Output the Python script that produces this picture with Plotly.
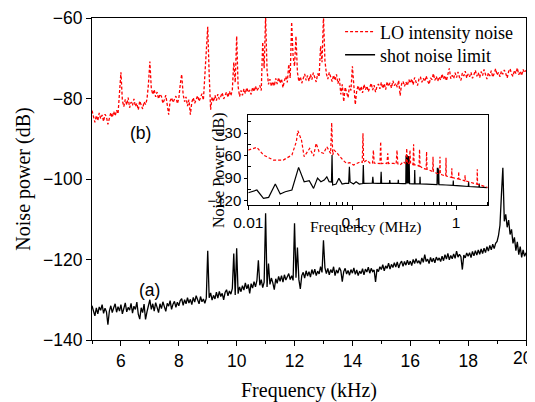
import numpy as np
import plotly.graph_objects as go

# ---------------- main chart data (frequency grid in kHz, 0.05 kHz step) ----------------
freq_khz = np.round(np.arange(5.0, 20.0001, 0.05), 2)

shot_noise_db = (
    [-131.5, -133.0, -134.0, -132.0, -133.5, -131.8, -132.6, -131.2, -133.4, -132.1, -133.0, -136.2, -132.8, -131.5, -133.2, -132.0, -131.0, -133.1, -131.7, -132.8]
    + [-131.2, -133.5, -132.0, -130.8, -133.0, -131.9, -132.6, -130.9, -133.3, -131.6, -132.4, -130.6, -133.6, -134.8, -132.0, -133.2, -131.1, -134.9, -133.0, -131.4]
    + [-130.0, -132.4, -131.0, -132.8, -130.7, -131.9, -133.2, -131.0, -132.2, -130.5, -131.8, -132.9, -130.9, -131.6, -130.2, -132.4, -131.1, -130.4, -131.9, -130.6]
    + [-131.5, -130.2, -129.7, -131.4, -130.0, -131.0, -129.5, -130.8, -129.9, -131.2, -129.4, -130.6, -129.0, -130.3, -131.0, -129.2, -130.5, -129.8, -130.9, -129.6]
    + [-117.8, -129.5, -128.3, -130.1, -128.9, -129.8, -128.1, -129.6, -127.9, -129.2, -128.4, -130.0, -128.2, -127.5, -129.0, -127.8, -128.6, -127.2, -118.5, -128.8]
    + [-117.2, -128.5, -126.8, -128.0, -126.5, -127.6, -125.8, -127.3, -126.2, -128.4, -126.0, -127.1, -125.5, -126.8, -125.2, -120.2, -126.4, -125.0, -127.0, -125.6]
    + [-108.5, -126.8, -121.0, -126.2, -124.6, -125.8, -127.5, -124.8, -125.9, -124.2, -125.4, -124.0, -125.6, -123.8, -125.1, -124.3, -123.5, -125.0, -124.0, -125.2]
    + [-111.0, -124.5, -117.0, -125.0, -127.3, -124.0, -123.2, -124.6, -122.8, -124.1, -123.0, -124.4, -122.5, -123.7, -122.4, -124.0, -122.9, -123.6, -121.8, -123.2]
    + [-115.2, -122.0, -123.5, -122.2, -123.8, -122.5, -123.3, -121.8, -124.0, -122.6, -123.4, -122.0, -122.8, -125.5, -123.0, -122.2, -123.6, -122.7, -123.9, -122.5]
    + [-123.4, -122.1, -123.7, -122.6, -124.0, -122.9, -123.5, -122.3, -123.8, -122.4, -123.1, -121.9, -123.4, -122.2, -123.0, -122.6, -125.6, -122.4, -123.0, -121.8]
    + [-122.5, -121.3, -122.8, -121.6, -122.2, -120.9, -122.4, -121.2, -122.0, -120.8, -121.9, -120.6, -122.1, -121.0, -120.4, -121.7, -120.5, -121.4, -120.2, -121.3]
    + [-120.4, -121.5, -120.0, -121.0, -119.8, -120.9, -120.3, -121.2, -119.6, -120.7, -118.8, -120.5, -119.9, -121.0, -119.5, -120.6, -119.7, -120.8, -119.4, -120.2]
    + [-119.6, -120.5, -119.2, -120.3, -118.8, -119.9, -118.5, -120.1, -119.0, -119.8, -118.6, -119.7, -117.9, -119.4, -118.7, -119.3, -122.5, -118.9, -119.6, -118.4]
    + [-119.2, -118.3, -119.5, -118.0, -119.1, -117.8, -118.9, -117.6, -118.7, -117.4, -118.5, -117.2, -118.3, -116.8, -117.9, -116.5, -117.6, -116.2, -117.3, -116.0]
    + [-115.5, -114.0, -111.5, -104.0, -97.2, -110.5, -108.8, -112.0, -110.2, -113.8, -112.5, -116.0, -114.5, -117.8, -115.6, -118.8, -116.8, -119.5, -117.6, -119.2]
    + [-118.3]
)

lo_noise_db = (
    [-83.0, -84.8, -85.9, -84.2, -85.5, -83.6, -85.0, -84.1, -85.7, -83.9, -84.6, -86.4, -84.9, -83.5, -84.7, -83.2, -84.3, -82.9, -83.8, -78.0]
    + [-73.5, -80.5, -82.0, -80.2, -81.6, -79.8, -82.3, -80.9, -81.7, -80.1, -82.0, -81.2, -82.8, -80.6, -81.9, -82.6, -80.8, -81.5, -80.2, -76.5]
    + [-70.8, -77.5, -79.0, -77.8, -79.6, -78.4, -80.1, -78.9, -79.5, -81.2, -80.3, -79.2, -81.5, -84.0, -80.6, -79.8, -81.0, -80.2, -79.4, -81.3]
    + [-80.0, -76.5, -74.0, -79.0, -80.8, -79.6, -81.9, -80.3, -84.0, -80.9, -79.8, -81.2, -80.0, -79.3, -80.7, -79.5, -78.8, -80.4, -74.5, -70.0]
    + [-62.2, -74.0, -82.8, -79.6, -80.8, -79.2, -80.5, -78.9, -80.2, -79.5, -78.6, -80.1, -79.0, -78.4, -79.7, -78.2, -79.3, -77.8, -71.0, -76.0]
    + [-64.5, -77.0, -79.5, -78.0, -79.2, -77.6, -78.8, -77.3, -78.5, -77.9, -79.0, -77.2, -78.3, -76.9, -78.1, -77.5, -76.8, -78.0, -66.0, -72.5]
    + [-59.5, -73.0, -76.5, -75.2, -77.0, -75.8, -76.9, -75.0, -76.4, -74.8, -76.2, -75.1, -77.3, -75.6, -74.5, -76.0, -71.5, -74.9, -61.0, -69.5]
    + [-72.0, -64.5, -73.5, -75.8, -74.6, -76.2, -75.0, -73.9, -75.5, -74.3, -75.7, -74.0, -75.3, -73.6, -74.8, -75.9, -73.8, -74.6, -67.0, -71.0]
    + [-59.5, -70.5, -73.8, -75.2, -73.5, -74.9, -75.8, -74.2, -75.5, -74.0, -76.3, -75.0, -79.0, -76.5, -80.8, -77.2, -78.5, -79.8, -76.8, -78.0]
    + [-72.0, -77.5, -81.5, -78.0, -76.8, -78.2, -77.0, -78.6, -76.5, -77.8, -76.9, -78.3, -77.1, -76.2, -77.9, -76.7, -78.4, -77.0, -76.4, -77.6]
    + [-76.0, -77.5, -76.3, -77.8, -75.8, -77.0, -76.1, -77.4, -75.6, -76.8, -76.2, -77.2, -75.5, -79.3, -76.4, -75.7, -77.0, -75.9, -76.8, -75.3]
    + [-76.2, -75.1, -76.6, -74.8, -75.9, -76.8, -75.2, -74.6, -76.0, -75.0, -75.8, -74.4, -75.6, -76.5, -74.9, -75.3, -73.8, -75.5, -74.5, -75.7]
    + [-74.6, -75.4, -73.9, -75.2, -74.3, -75.6, -74.0, -72.5, -75.1, -74.2, -75.0, -73.6, -74.8, -73.4, -74.7, -75.5, -73.7, -74.4, -73.2, -74.9]
    + [-73.9, -74.6, -73.5, -75.0, -74.1, -73.0, -74.5, -73.6, -74.8, -73.3, -74.3, -72.8, -74.0, -75.2, -73.6, -74.4, -73.1, -74.7, -73.8, -72.6]
    + [-74.2, -73.5, -74.6, -73.2, -74.0, -72.9, -73.8, -74.9, -73.3, -72.6, -73.9, -74.5, -73.0, -73.8, -72.4, -74.1, -73.2, -74.3, -72.8, -73.6]
    + [-73.0]
)

main_xtick_vals = [6, 8, 10, 12, 14, 16, 18, 20]
main_ytick_vals = [-140, -120, -100, -80, -60]

# ---------------- inset data (frequency in MHz) ----------------
inset_f_red = [0.010, 0.0121, 0.014, 0.0174, 0.0217, 0.0263, 0.029, 0.030, 0.0325, 0.0345,
               0.039, 0.0425, 0.045, 0.048, 0.053, 0.057, 0.062, 0.0635, 0.065, 0.067,
               0.072, 0.0765, 0.0815, 0.088, 0.095, 0.103, 0.110, 0.120, 0.125, 0.127,
               0.129, 0.133, 0.138, 0.149, 0.157, 0.160, 0.163, 0.173, 0.185, 0.188,
               0.191, 0.203, 0.216, 0.220, 0.224, 0.25, 0.265, 0.27, 0.275, 0.29,
               0.31, 0.33, 0.335, 0.34, 0.355, 0.36, 0.365, 0.385, 0.39, 0.395,
               0.42, 0.44, 0.445, 0.45, 0.48, 0.515, 0.52, 0.525, 0.56, 0.595,
               0.60, 0.605, 0.65, 0.695, 0.70, 0.705, 0.74, 0.795, 0.80, 0.805,
               0.85, 0.905, 0.91, 0.915, 0.98, 1.055, 1.06, 1.065, 1.14, 1.215,
               1.22, 1.225, 1.32, 1.42, 1.59, 1.60, 1.61, 1.72, 2.0]
inset_red_db = [-52.6, -49.0, -59.2, -65.9, -65.9, -59.2, -41.5, -26.9, -39.2, -61.5,
                -50.3, -60.5, -43.6, -54.8, -57.0, -48.2, -57.0, -16.2, -59.0, -52.6,
                -57.0, -61.5, -65.9, -70.2, -69.4, -72.5, -70.2, -68.1, -69.0, -30.3,
                -69.0, -68.0, -65.9, -70.2, -70.0, -52.6, -70.0, -70.2, -70.5, -41.5,
                -70.5, -70.2, -70.5, -57.0, -70.5, -70.2, -71.0, -52.6, -71.0, -72.5,
                -68.0, -71.0, -50.3, -71.0, -70.0, -52.6, -71.0, -72.0, -45.0, -72.0,
                -72.5, -74.0, -51.6, -74.0, -76.9, -78.0, -54.8, -78.0, -79.2, -81.0,
                -61.5, -81.0, -83.5, -84.5, -61.5, -84.5, -85.8, -87.0, -62.8, -87.0,
                -88.1, -89.0, -76.9, -89.0, -90.2, -91.0, -81.4, -91.0, -92.4, -93.5,
                -85.8, -93.5, -94.7, -96.0, -98.0, -78.2, -98.0, -99.1, -102.2]

inset_f_black = [0.0100, 0.0121, 0.0140, 0.0157, 0.0182, 0.0203, 0.0227, 0.0263, 0.0305, 0.0345,
                 0.0386, 0.0425, 0.0464, 0.050, 0.0538, 0.057, 0.060, 0.0632, 0.0640, 0.0648,
                 0.070, 0.0745, 0.080, 0.0855, 0.0925, 0.094, 0.0955, 0.103, 0.109, 0.117,
                 0.1265, 0.128, 0.1295, 0.140, 0.156, 0.158, 0.160, 0.175, 0.188, 0.190,
                 0.192, 0.21, 0.228, 0.230, 0.232, 0.255, 0.276, 0.278, 0.280, 0.31,
                 0.328, 0.330, 0.334, 0.337, 0.341, 0.345, 0.349, 0.353, 0.357, 0.38,
                 0.397, 0.400, 0.403, 0.447, 0.450, 0.453, 0.52, 0.60, 0.655, 0.660,
                 0.665, 0.670, 0.675, 0.680, 0.685, 0.80, 0.935, 0.94, 0.945, 1.10,
                 1.31, 1.32, 1.33, 1.66, 1.67, 1.68, 2.0]
inset_black_db = [-109.3, -105.7, -116.8, -115.5, -97.8, -111.1, -108.0, -105.7, -75.6, -94.7,
                  -93.4, -103.5, -89.8, -94.7, -92.4, -88.1, -94.7, -95.0, -59.2, -99.1,
                  -97.8, -90.2, -97.8, -96.8, -97.0, -74.8, -95.0, -97.8, -94.7, -97.8,
                  -97.0, -72.5, -96.8, -96.5, -96.5, -88.1, -96.5, -96.8, -96.5, -81.4,
                  -96.5, -96.8, -96.8, -92.4, -96.8, -97.0, -97.0, -92.0, -97.0, -97.2,
                  -97.2, -60.0, -97.0, -59.2, -97.0, -60.5, -97.0, -61.0, -97.3, -97.5,
                  -97.5, -79.2, -97.5, -97.6, -88.0, -97.6, -98.0, -98.3, -98.5, -77.0,
                  -98.5, -76.9, -98.5, -78.0, -98.6, -99.0, -99.5, -93.0, -99.5, -100.3,
                  -101.0, -95.0, -101.0, -101.8, -97.0, -101.8, -102.6]

inset_xtick_vals = [0.01, 0.1, 1]
inset_xtick_text = ["0.01", "0.1", "1"]
inset_ytick_vals = [-120, -90, -60, -30]

# ---------------- styling ----------------
SANS = "Liberation Sans, Arial, sans-serif"
SERIF = "Liberation Serif, Times New Roman, serif"
MAIN_X = [5, 20]
MAIN_Y = [-140, -60]
INSET_X = [-2, 0.31]
INSET_Y = [-125.3, -5.6]

fig = go.Figure()
fig.add_trace(go.Scatter(x=freq_khz, y=lo_noise_db, mode="lines", name="LO intensity noise",
                         legend="legend",
                         line=dict(color="#ff0000", width=1.3, dash="3px,2px")))
fig.add_trace(go.Scatter(x=freq_khz, y=shot_noise_db, mode="lines", name="shot noise limit",
                         legend="legend2",
                         line=dict(color="black", width=1.3)))
fig.add_trace(go.Scatter(x=inset_f_black, y=inset_black_db, mode="lines", xaxis="x2", yaxis="y2",
                         showlegend=False, line=dict(color="black", width=1.2)))
fig.add_trace(go.Scatter(x=inset_f_red, y=inset_red_db, mode="lines", xaxis="x2", yaxis="y2",
                         showlegend=False, line=dict(color="#ff0000", width=1.2, dash="3px,2px")))

axis_common = dict(showline=True, linecolor="black", linewidth=1, showgrid=False, zeroline=False,
                   ticks="outside", tickcolor="black", tickwidth=1, automargin=False,
                   ticklabeloverflow="allow")
mirror_common = dict(tickcolor="black", showticklabels=False, showline=False, showgrid=False,
                     zeroline=False, automargin=False, ticks="inside", tickmode="array")
legend_common = dict(xanchor="left", yanchor="middle", bgcolor="rgba(0,0,0,0)",
                     font=dict(family=SERIF, size=18, color="black"))

inset_minor_x = [m * d for d in (0.01, 0.1) for m in range(2, 10)] + [2.0]

# the last x label sits at the window edge; it is written as a text nudged slightly inwards
main_xtick_text = [str(v) for v in main_xtick_vals[:-1]] + [""]

# the page body adds an 8 px offset; the figure is shifted accordingly
fig.update_layout(
    width=535, height=394,
    margin=dict(l=84, r=17, t=10, b=62, autoexpand=False),
    paper_bgcolor="white", plot_bgcolor="white",
    font=dict(family=SANS, color="black"),
    legend=dict(x=0.5716, y=0.9565, **legend_common),
    legend2=dict(x=0.5716, y=0.8850, **legend_common),
    xaxis=dict(range=MAIN_X, tickmode="array", tickvals=main_xtick_vals, ticktext=main_xtick_text,
               ticklen=5, mirror=True,
               tickfont=dict(family=SANS, size=17.5),
               minor=dict(tickvals=[5, 7, 9, 11, 13, 15, 17, 19], ticks="outside", ticklen=3,
                          tickcolor="black", showgrid=False),
               title=dict(text="Frequency (kHz)", font=dict(family=SERIF, size=20), standoff=12),
               **axis_common),
    yaxis=dict(range=MAIN_Y, tickmode="array", tickvals=main_ytick_vals, ticklen=5, mirror=True,
               tickfont=dict(family=SANS, size=17.5),
               title=dict(text="Noise power (dB)", font=dict(family=SERIF, size=20), standoff=7),
               **axis_common),
    xaxis3=dict(overlaying="x", side="top", anchor="y", range=MAIN_X,
                tickvals=[MAIN_X[0] + k * 1.5 for k in range(11)], ticklen=4, **mirror_common),
    yaxis3=dict(overlaying="y", side="right", anchor="x", range=MAIN_Y,
                tickvals=[MAIN_Y[0] + k * 8 for k in range(11)], ticklen=4, **mirror_common),
    xaxis2=dict(type="log", range=INSET_X, domain=[0.3601, 0.9131], anchor="y2", mirror=True,
                tickmode="array", tickvals=inset_xtick_vals, ticktext=inset_xtick_text, ticklen=4,
                tickfont=dict(family=SANS, size=15.5),
                minor=dict(tickvals=inset_minor_x, ticks="inside", ticklen=3, tickcolor="black", showgrid=False),
                **axis_common),
    yaxis2=dict(range=INSET_Y, domain=[0.420, 0.6997], anchor="x2", mirror=True,
                tickmode="array", tickvals=inset_ytick_vals, ticklen=3,
                tickfont=dict(family=SANS, size=15),
                minor=dict(tickvals=[-105, -75, -45, -15], ticks="inside", ticklen=3, tickcolor="black", showgrid=False),
                **axis_common),
    xaxis4=dict(type="log", overlaying="x2", side="top", anchor="y2", range=INSET_X,
                tickvals=[10 ** (INSET_X[0] + k * (INSET_X[1] - INSET_X[0]) / 10) for k in range(11)],
                ticklen=3, **mirror_common),
    yaxis4=dict(overlaying="y2", side="right", anchor="x2", range=INSET_Y,
                tickvals=[INSET_Y[0] + k * (INSET_Y[1] - INSET_Y[0]) / 10 for k in range(11)],
                ticklen=3, **mirror_common),
    annotations=[
        dict(text=str(main_xtick_vals[-1]), x=main_xtick_vals[-1], y=-0.0559, xref="x", yref="paper",
             xshift=-3, showarrow=False, yanchor="middle",
             font=dict(family=SANS, size=17.5, color="black")),
        dict(text="(b)", x=6.69, y=-88.5, xref="x", yref="y", showarrow=False,
             font=dict(family=SANS, size=17.5, color="black")),
        dict(text="(a)", x=6.97, y=-127.5, xref="x", yref="y", showarrow=False,
             font=dict(family=SANS, size=17.5, color="black")),
        dict(text="Frequency (MHz)", x=0.631, y=0.3168, xref="paper", yref="paper", showarrow=False,
             font=dict(family=SERIF, size=15.5, color="black")),
        dict(text="Noise Power (dB)", x=0.2673, y=0.528, xref="paper", yref="paper", showarrow=False,
             textangle=-90, font=dict(family=SERIF, size=16, color="black")),
    ],
)

fig.write_html("out.html")
